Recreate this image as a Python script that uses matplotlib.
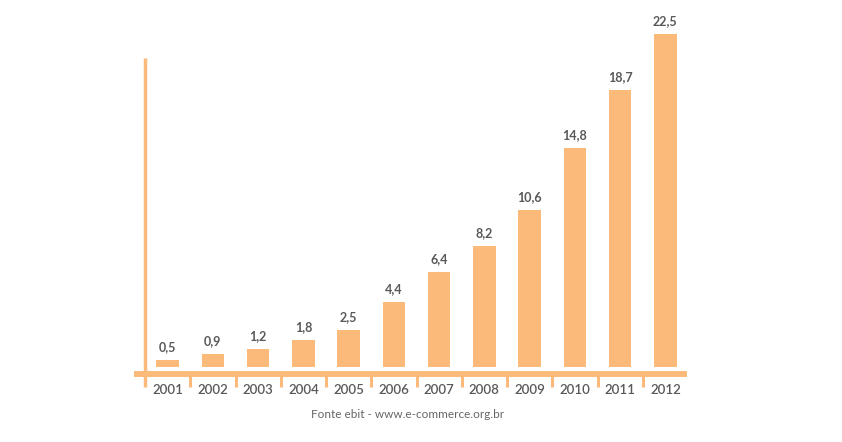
import matplotlib.pyplot as plt
import numpy as np

anos = ["2001", "2002", "2003", "2004", "2005", "2006",
        "2007", "2008", "2009", "2010", "2011", "2012"]
valores = [0.5, 0.9, 1.2, 1.8, 2.5, 4.4, 6.4, 8.2, 10.6, 14.8, 18.7, 22.5]
rotulos = ["0,5", "0,9", "1,2", "1,8", "2,5", "4,4",
           "6,4", "8,2", "10,6", "14,8", "18,7", "22,5"]
fonte = "Fonte ebit - www.e-commerce.org.br"

laranja = "#fbba7a"
cinza = "#595959"
plt.rcParams['font.family'] = ['Lato', 'DejaVu Sans']

fig = plt.figure(figsize=(8.42, 4.42), dpi=100)
ax = fig.add_axes([145/842, 75/442, 543/842, 333/442])

x = np.arange(len(anos))
ax.bar(x, valores, width=0.5, color=laranja)

for xi, v, r in zip(x, valores, rotulos):
    ax.annotate(r, (xi, v), xytext=(0, 5), textcoords="offset points",
                ha="center", va="bottom", fontsize=9, fontweight="bold", color=cinza)

ax.set_xlim(-0.5, 11.5)
ax.set_ylim(0, 22.5)
for s in ax.spines.values():
    s.set_visible(False)
ax.set_xticks([])
ax.set_yticks([])

# eixo vertical
ax.plot([-0.5, -0.5], [-1.35, 20.9], color=laranja, lw=2.5, clip_on=False,
        solid_capstyle="butt")
# eixo horizontal
ax.plot([-0.75, 11.48], [-0.47, -0.47], color=laranja, lw=4.3, clip_on=False,
        solid_capstyle="butt")
# marcas entre categorias
for b in np.arange(0.5, 11, 1):
    ax.plot([b, b], [-0.47, -1.35], color=laranja, lw=2.2, clip_on=False,
            solid_capstyle="butt")

for xi, a in zip(x, anos):
    ax.text(xi, -1.12, a, ha="center", va="top", fontsize=9.5,
            fontweight="semibold", color=cinza)

fig.text(408/842, 1 - 414/442, fonte, ha="center", va="center",
         fontsize=8.5, color="#666666")

fig.savefig("out.png", dpi=100)
